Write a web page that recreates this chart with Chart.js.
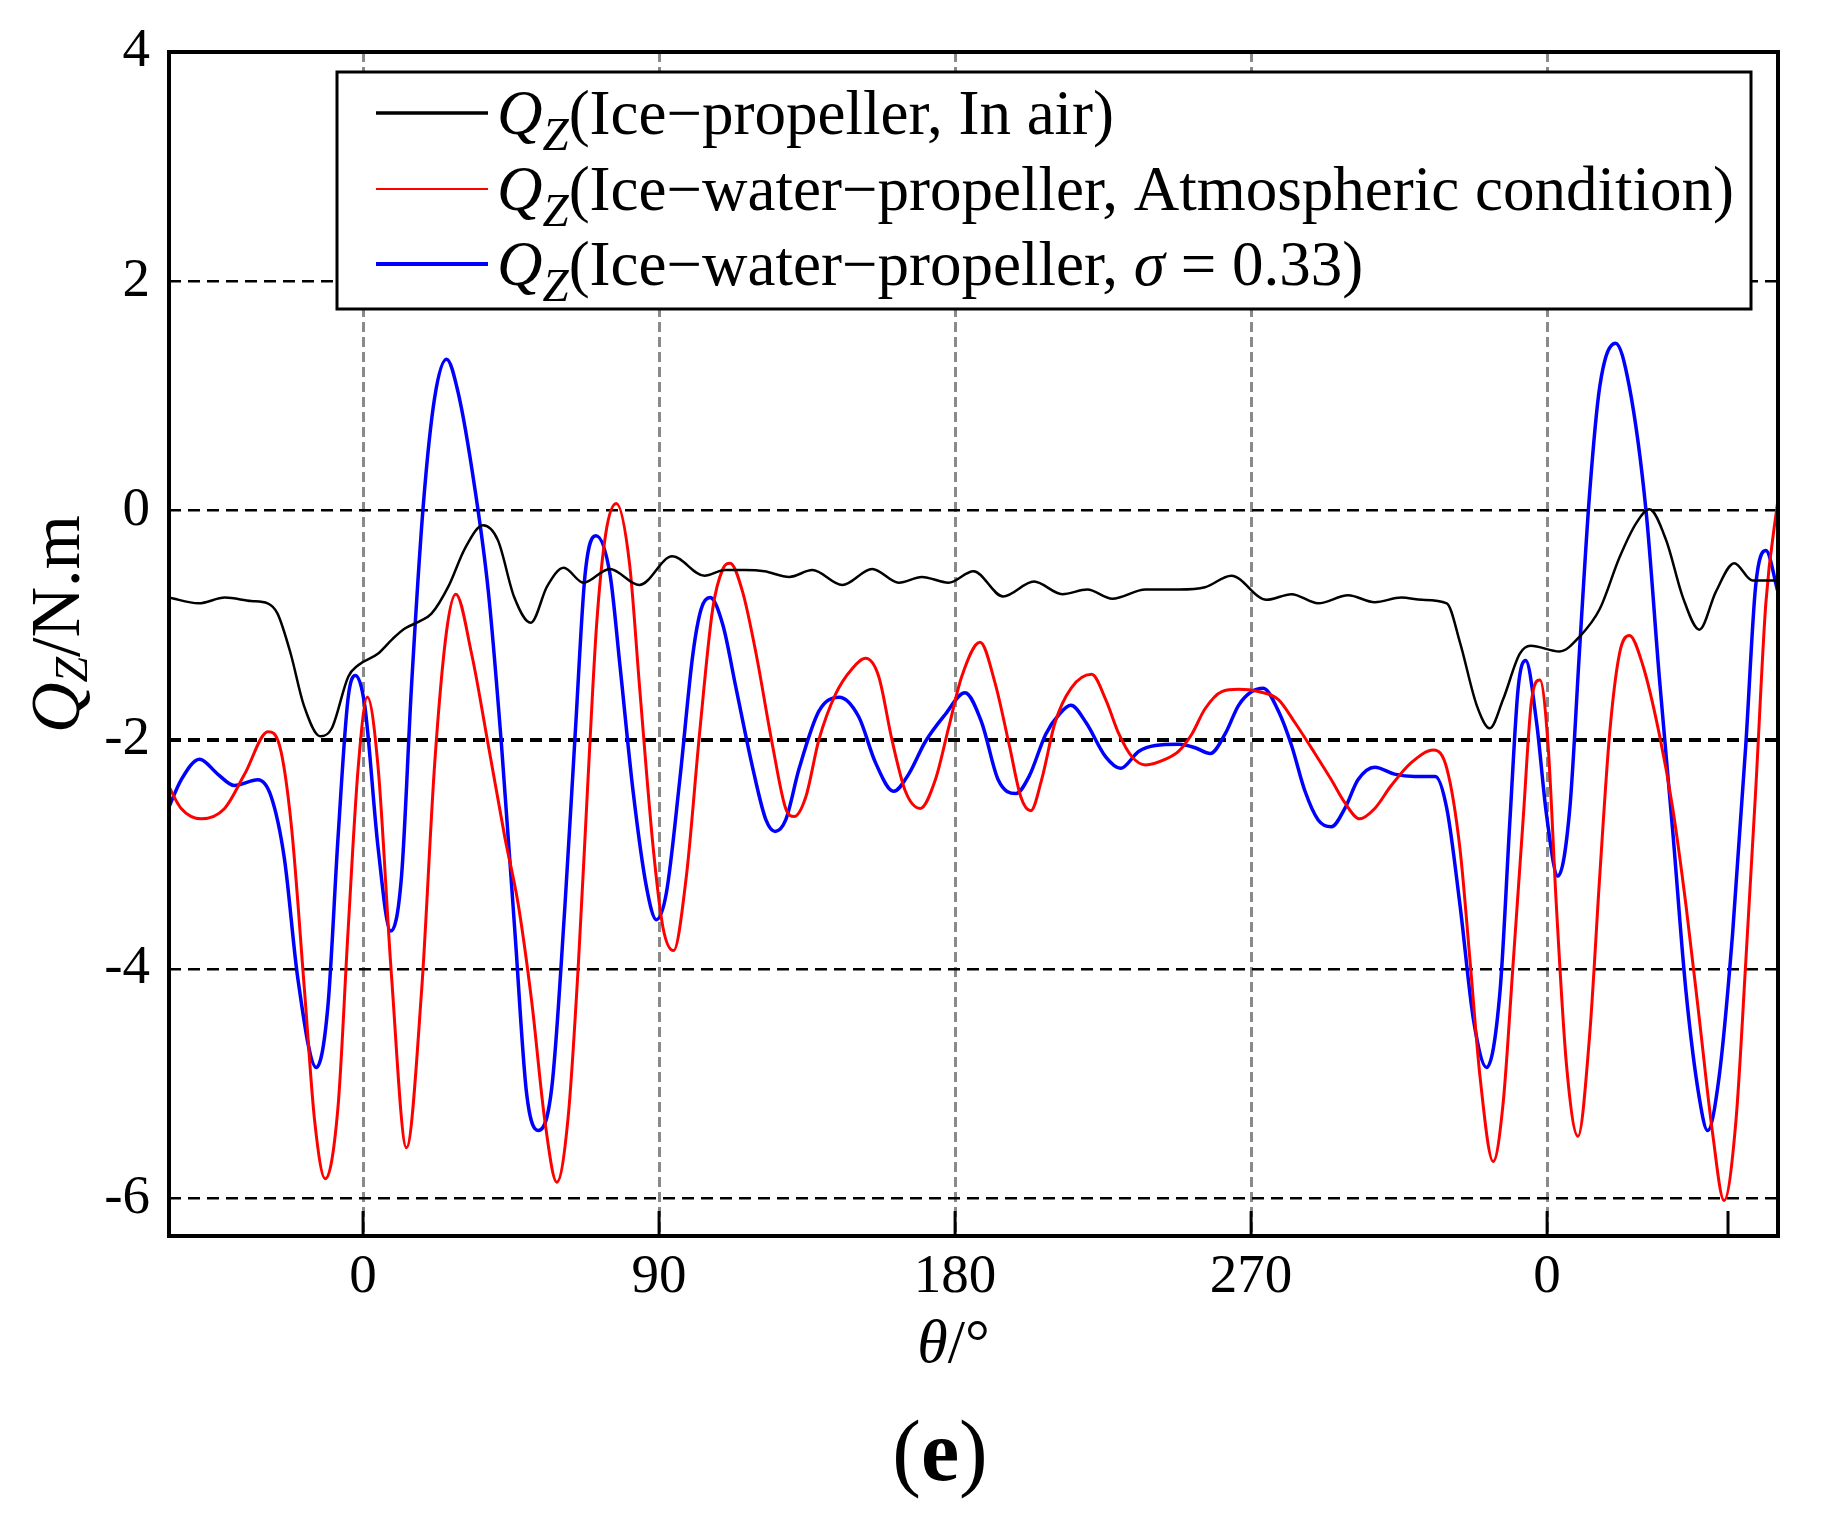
<!DOCTYPE html>
<html>
<head>
<meta charset="utf-8">
<title>Q_Z torque vs angle</title>
<script src="https://cdn.jsdelivr.net/npm/chart.js@4.4.1/dist/chart.umd.min.js"></script>
<style>
  html, body { margin: 0; padding: 0; background: #fff; }
  canvas { display: block; }
</style>
</head>
<body>
<canvas id="chart" width="1823" height="1522"></canvas>
<script>
// angle positions (deg) and torque values (N.m)
const thetaAir = [-59, -50, -42, -34, -29, -26, -22, -18, -13, -9.5, -4.5, -1.5, 4.5, 9, 12.7, 17, 20.8, 26, 31, 36.5,
  41, 46, 51, 56, 61, 67, 75, 84, 94, 103.8, 110, 116, 122, 129.6, 136.6, 145.7, 154.8, 162.9, 169.9, 178,
  185.6, 194.6, 204, 212.6, 220.2, 227.8, 237.9, 248, 256, 264, 274.7, 282.3, 290.4, 299.5, 307.6, 315.7, 322, 329.5, 333.5, 338.6,
  342.6, 346.6, 351.7, 355, 363.8, 369.9, 376, 382, 387.1, 391.1, 396.2, 401.3, 406.3, 411.3, 416.9, 422.4, 430.2];
const qAir = [-0.76, -0.81, -0.76, -0.79, -0.81, -0.90, -1.25, -1.70, -1.97, -1.90, -1.45, -1.35, -1.25, -1.12, -1.03, -0.97, -0.90, -0.66, -0.33, -0.13,
  -0.26, -0.76, -0.98, -0.66, -0.50, -0.63, -0.51, -0.65, -0.40, -0.57, -0.52, -0.52, -0.53, -0.58, -0.52, -0.65, -0.51, -0.63, -0.58, -0.63,
  -0.53, -0.75, -0.62, -0.73, -0.69, -0.77, -0.69, -0.69, -0.67, -0.57, -0.78, -0.73, -0.81, -0.74, -0.80, -0.76, -0.78, -0.81, -1.15, -1.70,
  -1.90, -1.65, -1.25, -1.18, -1.23, -1.10, -0.86, -0.41, -0.11, 0.01, -0.26, -0.76, -1.04, -0.71, -0.46, -0.61, -0.61];

const thetaAtm = [-59.2, -55.3, -49.2, -42.1, -36, -28.9, -25.4, -21.8, -17.8, -14.7,
  -11.5, -7.6, -4.6, -1.5, 1.3, 4.6, 8.6, 13.2, 17.8, 21.8,
  25.4, 28.2, 33, 38.1, 43.1, 47.2, 51.3, 55.3, 58.9, 62.4,
  65.5, 68.3, 71, 73.8, 77, 81, 84.1, 88.2, 91.2, 94.4,
  98.3, 102.3, 106.3, 109.4, 111.6, 115.4, 119.5, 124.5, 128.5, 131.1,
  134.6, 138.6, 143.7, 148.7, 152.8, 156.8, 160.8, 164.9, 169.4, 174,
  178, 182, 187.6, 192.1, 196.5, 200, 203, 206.3, 210.4, 215.3,
  221.5, 225.8, 229.8, 233.8, 237.9, 244, 248, 252, 256, 261.1,
  266.2, 272.2, 278.3, 283.3, 289.4, 294.4, 298.5, 303, 307.6, 312.6,
  318.7, 325.5, 329.5, 333.5, 336.6, 339.6, 343.6, 346.6, 349.7, 352.7,
  355.3, 357.8, 360.3, 362.8, 365.9, 369.4, 372.9, 376, 379, 382,
  385, 389.1, 394.1, 398.2, 402.2, 406.3, 410.3, 413.8, 417.4, 420.4,
  423.4, 426.5, 430.2];
const qAtm = [-2.40, -2.60, -2.69, -2.60, -2.30, -1.93, -2.05, -2.75, -4.19, -5.33,
  -5.83, -5.20, -3.69, -2.25, -1.63, -2.25, -4.04, -5.56, -4.19, -2.20,
  -1.05, -0.73, -1.25, -2.05, -2.85, -3.44, -4.29, -5.33, -5.86, -5.28,
  -3.94, -2.40, -1.00, -0.20, 0.06, -0.46, -1.55, -2.94, -3.64, -3.84,
  -3.19, -1.95, -0.86, -0.51, -0.46, -0.71, -1.25, -2.05, -2.60, -2.67,
  -2.50, -2.00, -1.60, -1.38, -1.29, -1.45, -2.00, -2.45, -2.60, -2.35,
  -1.90, -1.45, -1.15, -1.50, -2.05, -2.50, -2.62, -2.35, -1.85, -1.55,
  -1.43, -1.65, -1.95, -2.15, -2.22, -2.17, -2.10, -1.95, -1.73, -1.58,
  -1.56, -1.58, -1.65, -1.85, -2.12, -2.35, -2.55, -2.69, -2.60, -2.40,
  -2.20, -2.09, -2.25, -2.95, -3.94, -4.94, -5.68, -5.18, -3.94, -2.70,
  -1.65, -1.48, -2.05, -3.44, -4.84, -5.46, -4.59, -3.19, -1.95, -1.25,
  -1.09, -1.35, -1.95, -2.60, -3.44, -4.44, -5.43, -6.02, -5.33, -3.94,
  -2.45, -0.81, 0.10];

const thetaCav = [-59.2, -55.3, -49.7, -44.2, -39.1, -32, -27.9, -23.9, -19.8, -14.2,
  -10.7, -7.6, -4.6, -2.3, 0.5, 4.6, 8.4, 11.7, 14.7, 18.3,
  21.8, 25.4, 28.9, 34, 38.1, 42.1, 46.2, 49.7, 53.3, 57.4,
  61.4, 64.5, 67.5, 70.8, 75.1, 78.1, 82.1, 86.2, 89.2, 92.2,
  96.3, 100.3, 102.8, 105.5, 109.4, 113.4, 118.5, 122.5, 125.3, 128.5,
  132.6, 138.6, 144.7, 150.7, 155.8, 161.3, 165.9, 170.9, 177, 183,
  188.1, 193.1, 198.5, 202.5, 207.6, 211.6, 215.2, 219.8, 225.8, 230.3,
  235.9, 240.9, 248, 253, 257.6, 262.1, 266.2, 270.2, 273.7, 278.3,
  282.3, 286.4, 290.4, 294.4, 298.5, 302.5, 307.6, 313.6, 319.7, 326,
  329.5, 333.5, 337.6, 341.6, 345.7, 348.7, 351.2, 353.5, 356.8, 359.8,
  363.3, 366.9, 369.9, 372.9, 376, 380.8, 385, 390.1, 394.1, 398.2,
  402.2, 406.3, 408.8, 412.3, 416.4, 420.4, 423.4, 426.5, 430.2];
const qCav = [-2.60, -2.35, -2.17, -2.30, -2.40, -2.35, -2.50, -3.04, -4.09, -4.86,
  -4.33, -2.85, -1.65, -1.44, -1.70, -2.95, -3.67, -3.19, -1.55, 0.04,
  0.99, 1.32, 1.03, 0.19, -0.71, -2.05, -3.69, -5.08, -5.41, -5.03,
  -3.44, -1.95, -0.56, -0.22, -0.56, -1.35, -2.45, -3.29, -3.57, -3.34,
  -2.35, -1.25, -0.86, -0.76, -1.00, -1.55, -2.25, -2.70, -2.80, -2.70,
  -2.25, -1.75, -1.63, -1.80, -2.20, -2.45, -2.30, -2.02, -1.78, -1.59,
  -1.85, -2.35, -2.47, -2.32, -1.95, -1.78, -1.70, -1.85, -2.15, -2.25,
  -2.10, -2.05, -2.04, -2.07, -2.12, -1.95, -1.70, -1.58, -1.55, -1.75,
  -2.05, -2.45, -2.70, -2.76, -2.60, -2.35, -2.24, -2.30, -2.32, -2.32,
  -2.60, -3.44, -4.44, -4.86, -4.19, -2.70, -1.55, -1.31, -1.85, -2.65,
  -3.19, -2.60, -1.20, 0.14, 1.08, 1.46, 1.08, -0.01, -1.45, -2.80,
  -4.19, -5.13, -5.41, -4.94, -3.69, -2.05, -0.66, -0.35, -0.71];

const xTickValues = [0, 90, 180, 270, 360];
const xMinorTicks = [415];
const yTickValues = [-6, -4, -2, 0, 2, 4];

const legendRows = [
  { label: '(Ice\u2212propeller, In air)', color: '#000000', width: 3.5 },
  { label: '(Ice\u2212water\u2212propeller, Atmospheric condition)', color: '#ff0000', width: 2 },
  { label: '(Ice\u2212water\u2212propeller, ', sigma: ' = 0.33)', color: '#0000ff', width: 4 }
];

const SERIF = "'Liberation Serif', 'Times New Roman', serif";

function toPoints(xs, ys) {
  return xs.map((x, i) => ({ x, y: ys[i] }));
}

// draws a row of text pieces with their own fonts, left to right
function drawRuns(ctx, runs, x, y, align) {
  let total = 0;
  runs.forEach((r) => { ctx.font = r.font; total += ctx.measureText(r.text).width; });
  let cx = align === 'center' ? x - total / 2 : x;
  runs.forEach((r) => {
    ctx.font = r.font;
    ctx.fillText(r.text, cx, y + (r.dy || 0));
    cx += ctx.measureText(r.text).width;
  });
}

const decor = {
  id: 'decor',
  afterDatasetsDraw(chart) {
    const { ctx, chartArea: area, scales } = chart;
    ctx.save();
    // frame
    ctx.strokeStyle = '#000';
    ctx.lineWidth = 4;
    ctx.setLineDash([]);
    ctx.strokeRect(area.left, area.top, area.right - area.left, area.bottom - area.top);
    // inward tick marks on the bottom axis
    ctx.lineWidth = 3;
    xTickValues.concat(xMinorTicks).forEach((v) => {
      const px = scales.x.getPixelForValue(v);
      ctx.beginPath();
      ctx.moveTo(px, area.bottom);
      ctx.lineTo(px, area.bottom - 25);
      ctx.stroke();
    });
    ctx.restore();
  },
  afterDraw(chart) {
    const { ctx, chartArea: area } = chart;
    ctx.save();
    ctx.fillStyle = '#000';
    ctx.textBaseline = 'alphabetic';
    ctx.textAlign = 'left';

    // legend box
    const box = { left: 337, top: 72, right: 1751, bottom: 309 };
    ctx.fillStyle = '#fff';
    ctx.fillRect(box.left, box.top, box.right - box.left, box.bottom - box.top);
    ctx.strokeStyle = '#000';
    ctx.lineWidth = 3;
    ctx.strokeRect(box.left, box.top, box.right - box.left, box.bottom - box.top);
    const rowY = [113, 189, 264];
    legendRows.forEach((row, i) => {
      const y = rowY[i];
      ctx.strokeStyle = row.color;
      ctx.lineWidth = row.width;
      ctx.beginPath();
      ctx.moveTo(376, y);
      ctx.lineTo(488, y);
      ctx.stroke();
      ctx.fillStyle = '#000';
      const runs = [
        { text: 'Q', font: 'italic 63px ' + SERIF },
        { text: 'Z', font: 'italic 47px ' + SERIF, dy: 16 },
        { text: row.label, font: '63px ' + SERIF }
      ];
      if (row.sigma) {
        runs.push({ text: '\u03c3', font: 'italic 63px ' + SERIF });
        runs.push({ text: row.sigma, font: '63px ' + SERIF });
      }
      drawRuns(ctx, runs, 497, y + 21, 'left');
    });

    // y axis title
    ctx.fillStyle = '#000';
    ctx.save();
    ctx.translate(79, 624);
    ctx.rotate(-Math.PI / 2);
    drawRuns(ctx, [
      { text: 'Q', font: 'italic 70px ' + SERIF },
      { text: 'Z', font: 'italic 46px ' + SERIF, dy: 8 },
      { text: '/N.m', font: '70px ' + SERIF }
    ], 0, 0, 'center');
    ctx.restore();

    // x axis title
    drawRuns(ctx, [
      { text: '\u03b8', font: 'italic 62px ' + SERIF },
      { text: '/\u00b0', font: '62px ' + SERIF }
    ], (area.left + area.right) / 2 - 20, 1362, 'center');

    // panel label
    drawRuns(ctx, [
      { text: '(', font: '86px ' + SERIF },
      { text: 'e', font: 'bold 86px ' + SERIF },
      { text: ')', font: '86px ' + SERIF }
    ], 940, 1480, 'center');
    ctx.restore();
  }
};

new Chart(document.getElementById('chart'), {
  type: 'line',
  data: {
    datasets: [
      {
        label: 'Ice-propeller, In air',
        data: toPoints(thetaAir, qAir),
        borderColor: '#000000',
        borderWidth: 2.5,
        pointRadius: 0,
        cubicInterpolationMode: 'monotone'
      },
      {
        label: 'Ice-water-propeller, Atmospheric condition',
        data: toPoints(thetaAtm, qAtm),
        borderColor: '#ff0000',
        borderWidth: 3,
        pointRadius: 0,
        cubicInterpolationMode: 'monotone'
      },
      {
        label: 'Ice-water-propeller, sigma = 0.33',
        data: toPoints(thetaCav, qCav),
        borderColor: '#0000ff',
        borderWidth: 3.5,
        pointRadius: 0,
        cubicInterpolationMode: 'monotone'
      }
    ]
  },
  options: {
    responsive: false,
    devicePixelRatio: 1,
    animation: false,
    layout: { padding: { left: 0, top: 47, right: 45, bottom: 0 } },
    plugins: {
      legend: { display: false },
      tooltip: { enabled: false }
    },
    scales: {
      x: {
        type: 'linear',
        min: -59,
        max: 430.2,
        afterBuildTicks: (scale) => { scale.ticks = xTickValues.map((value) => ({ value })); },
        afterFit: (scale) => { scale.height = 286; },
        ticks: {
          color: '#000',
          font: { family: SERIF, size: 55 },
          padding: 9,
          maxRotation: 0,
          autoSkip: false,
          callback: (value) => (value === 360 ? '0' : String(value))
        },
        grid: { color: '#8a8a8a', lineWidth: 3, drawTicks: false },
        border: { display: false, dash: [10, 5] }
      },
      y: {
        min: -6.33,
        max: 4,
        afterBuildTicks: (scale) => { scale.ticks = yTickValues.map((value) => ({ value })); },
        afterFit: (scale) => { scale.width = 169; },
        ticks: {
          color: '#000',
          font: { family: SERIF, size: 55 },
          padding: 19,
          callback: (value) => String(value)
        },
        grid: {
          color: '#000',
          lineWidth: (context) => (context.tick && context.tick.value === -2 ? 4 : 2.5),
          drawTicks: false
        },
        border: { display: false, dash: [12, 7] }
      }
    }
  },
  plugins: [decor]
});
</script>
</body>
</html>
